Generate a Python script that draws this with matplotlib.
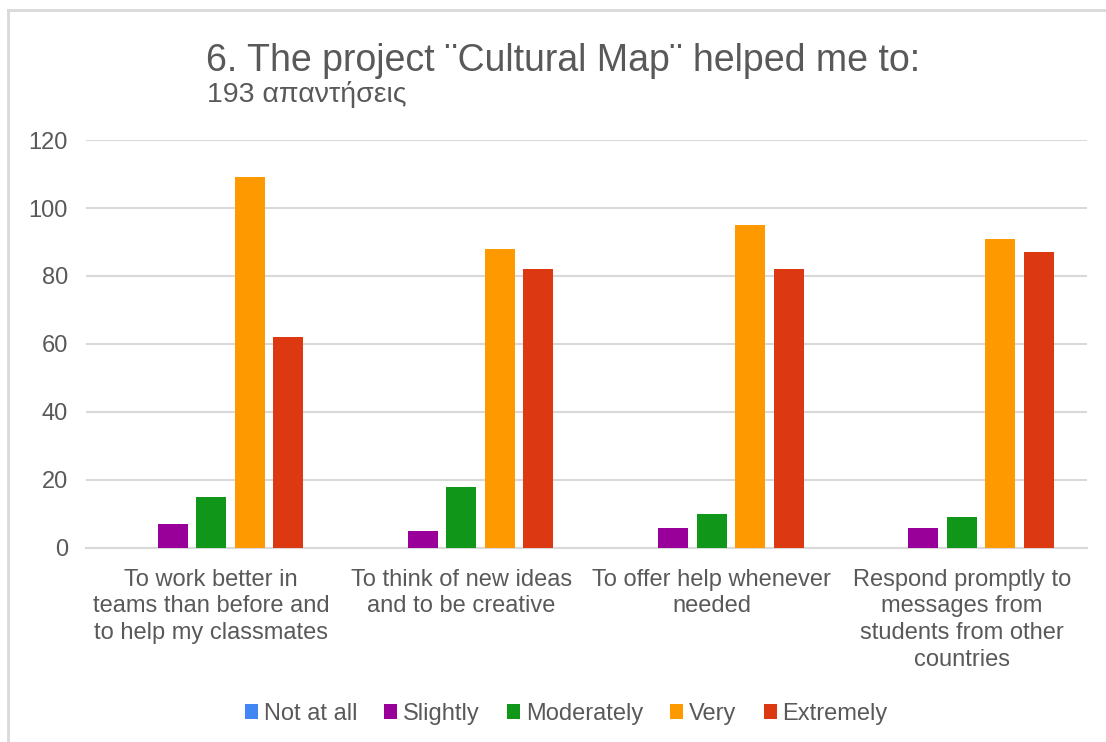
import matplotlib
matplotlib.use("Agg")
import matplotlib.pyplot as plt
import numpy as np
from matplotlib.lines import Line2D
from matplotlib.patches import Patch

plt.rcParams["font.family"] = ["Liberation Sans", "DejaVu Sans"]

TEXT = "#595959"
GRID = "#d9d9d9"

categories = [
    "To work better in\nteams than before and\nto help my classmates",
    "To think of new ideas\nand to be creative",
    "To offer help whenever\nneeded",
    "Respond promptly to\nmessages from\nstudents from other\ncountries",
]
levels = ["Not at all", "Slightly", "Moderately", "Very", "Extremely"]
colors = ["#4285F4", "#990099", "#109618", "#FF9900", "#DC3912"]

not_at_all = [0, 0, 0, 0]
slightly = [7, 5, 6, 6]
moderately = [15, 18, 10, 9]
very = [109, 88, 95, 91]
extremely = [62, 82, 82, 87]
series = [not_at_all, slightly, moderately, very, extremely]

fig = plt.figure(figsize=(11.06, 7.42), dpi=100)
ax = fig.add_axes([0.0778, 0.2615, 0.905, 0.5498])

x = np.arange(len(categories))
step = 0.154
width = 0.12
for i, (vals, col) in enumerate(zip(series, colors)):
    ax.bar(x + (i - 2) * step, vals, width, color=col, zorder=3)

ax.set_xlim(-0.5, len(categories) - 0.5)
ax.set_ylim(0, 120)
ax.set_yticks(range(0, 121, 20))
ax.yaxis.grid(True, color=GRID, lw=1.5, zorder=0)
ax.set_xticks(x)
ax.set_xticklabels(categories, fontsize=17, color=TEXT, linespacing=1.27)
ax.tick_params(axis="y", labelsize=17, labelcolor=TEXT, length=0, pad=13)
ax.tick_params(axis="x", length=0, pad=15)
for s in ["top", "right", "left"]:
    ax.spines[s].set_visible(False)
ax.spines["bottom"].set_color(GRID)
ax.spines["bottom"].set_linewidth(1.5)

fig.text(0.186, 0.918, "6. The project ¨Cultural Map¨ helped me to:",
         fontsize=27, color=TEXT, va="center")
fig.text(0.187, 0.872, "193 απαντήσεις", fontsize=20.5, color=TEXT, va="center")

handles = [Patch(facecolor=c, label=l) for c, l in zip(colors, levels)]
fig.legend(handles=handles, loc="center", bbox_to_anchor=(0.512, 0.038), ncol=5,
           frameon=False, fontsize=17, labelcolor=TEXT, handlelength=0.55,
           handleheight=0.55, handletextpad=0.25, columnspacing=1.15)

# outer frame
fig.add_artist(Line2D([8 / 1106, 1], [1 - 10 / 742, 1 - 10 / 742],
                      color=GRID, lw=2, transform=fig.transFigure))
fig.add_artist(Line2D([8 / 1106, 8 / 1106], [0, 1 - 10 / 742],
                      color=GRID, lw=2, transform=fig.transFigure))

fig.savefig("out.png", dpi=100)
